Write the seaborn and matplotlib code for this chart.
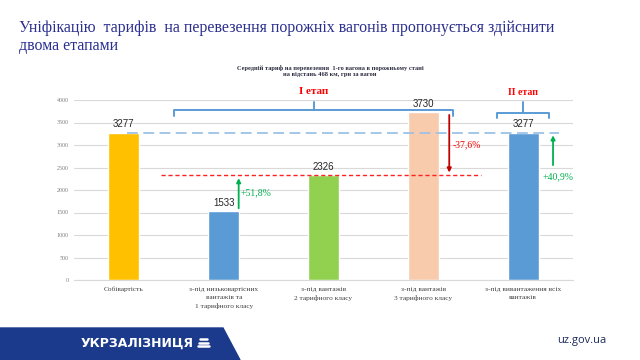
import numpy as np
import pandas as pd
import matplotlib.pyplot as plt
import matplotlib.patches as mpatches
import seaborn as sns

# Дані
categorias = ['Собівартість',
              'з-під низьковартісних\nвантажів та\n1 тарифного класу',
              'з-під вантажів\n2 тарифного класу',
              'з-під вантажів\n3 тарифного класу',
              'з-під вивантаження всіх\nвантажів']
tarifs = [3277, 1533, 2326, 3730, 3277]
cores = ['#ffc000', '#5b9bd5', '#92d050', '#f8cbad', '#5b9bd5']
yticks = list(range(0, 4001, 500))
pct_labels = ['+51,8%', '-37,6%', '+40,9%']
etap_labels = ['I етап', 'II етап']

sns.set_style("whitegrid")
plt.rcParams['font.family'] = ['Liberation Serif', 'DejaVu Serif']

df = pd.DataFrame({'cat': categorias, 'val': tarifs})

fig = plt.figure(figsize=(6.4, 3.6), dpi=100)
fig.patch.set_facecolor('white')

# Заголовок слайда
fig.text(19 / 640, 1 - 37 / 360,
         'Уніфікацію  тарифів  на перевезення порожніх вагонів пропонується здійснити\nдвома етапами',
         fontsize=11.4, color='#2b2f8f', va='center', ha='left', linespacing=1.15)

# Підзаголовок діаграми
fig.text(330 / 640, 1 - 71 / 360,
         'Середній тариф на перевезення  1-го вагона в порожньому стані\nна відстань 468 км, грн за вагон',
         fontsize=4.6, color='#2a2a40', fontweight='bold', ha='center', va='center', linespacing=1.2)

ax = fig.add_axes([74 / 640, 80 / 360, 499 / 640, 180 / 360])
sns.barplot(data=df, x='cat', y='val', hue='cat', palette=cores, legend=False,
            width=0.31, ax=ax, saturation=1)

ax.set_ylim(0, 4000)
ax.set_xlim(-0.5, 4.5)
ax.set_yticks(yticks)
ax.set_xticks(range(len(categorias)))
ax.set_xticklabels(categorias, linespacing=1.7, va='top')
ax.tick_params(axis='y', labelsize=4.3, colors='#7f7f7f', length=0, pad=4)
ax.tick_params(axis='x', labelsize=5.3, colors='#404040', length=0, pad=5)
ax.set_xlabel('')
ax.set_ylabel('')
ax.grid(axis='y', color='#d9d9d9', linewidth=0.8)
ax.grid(axis='x', visible=False)
for s in ['top', 'right', 'left']:
    ax.spines[s].set_visible(False)
ax.spines['bottom'].set_color('#d9d9d9')

# Підписи значень
for i, v in enumerate(tarifs):
    ax.text(i, v + 70, str(v), ha='center', va='bottom', fontsize=7,
            color='#262626', family='Liberation Sans')

# Горизонтальні пунктирні лінії
ax.plot([0.03, 4.36], [tarifs[0], tarifs[0]], color='#9dc3e6', lw=1.3,
        ls=(0, (6, 3)), zorder=4, clip_on=False)
ax.plot([0.37, 3.58], [tarifs[2], tarifs[2]], color='#ff2020', lw=1.0,
        ls=(0, (3, 2)), zorder=4, clip_on=False)

# Фігурні дужки етапів
br = '#5b9bd5'
ax.plot([0.5, 0.5, 3.3, 3.3], [3640, 3780, 3780, 3640], color=br, lw=1.4, clip_on=False)
ax.plot([1.9, 1.9], [3780, 3960], color=br, lw=1.4, clip_on=False)
ax.plot([3.74, 3.74, 4.26, 4.26], [3600, 3710, 3710, 3600], color=br, lw=1.4, clip_on=False)
ax.plot([4.0, 4.0], [3710, 3950], color=br, lw=1.4, clip_on=False)
ax.text(1.9, 4180, etap_labels[0], ha='center', va='center', fontsize=8,
        color='#ff0000', fontweight='bold')
ax.text(4.0, 4170, etap_labels[1], ha='center', va='center', fontsize=7,
        color='#ff0000', fontweight='bold')

# Стрілки
green = '#00b050'
ax.annotate('', xy=(1.15, tarifs[2]), xytext=(1.15, tarifs[1]),
            arrowprops=dict(arrowstyle='-|>', color=green, lw=1.3, mutation_scale=6))
ax.text(1.17, 1930, pct_labels[0], ha='left', va='center', fontsize=7, color=green)

red = '#c00000'
ax.annotate('', xy=(3.26, tarifs[2]), xytext=(3.26, tarifs[3]),
            arrowprops=dict(arrowstyle='-|>', color=red, lw=1.3, mutation_scale=6))
ax.text(3.29, 3000, pct_labels[1], ha='left', va='center', fontsize=7, color='#ff0000')

ax.annotate('', xy=(4.3, tarifs[4]), xytext=(4.3, 2490),
            arrowprops=dict(arrowstyle='-|>', color=green, lw=1.3, mutation_scale=6))
ax.text(4.35, 2290, pct_labels[2], ha='center', va='center', fontsize=7, color=green)

# Нижня плашка з логотипом
band = mpatches.Polygon([[0, 0], [240 / 640, 0], [223 / 640, 32 / 360], [0, 32 / 360]],
                        closed=True, transform=fig.transFigure, color='#1b3a8c', zorder=0)
fig.patches.append(band)
fig.text(81 / 640, 1 - 343 / 360, 'УКРЗАЛІЗНИЦЯ', color='white', fontsize=9.0,
         fontweight='bold', family='DejaVu Sans', ha='left', va='center')
for k, (x0, x1) in enumerate([(200, 207), (199, 208), (198, 209)]):
    yy = 1 - (339 + k * 3.5) / 360
    fig.add_artist(plt.Line2D([x0 / 640, x1 / 640], [yy, yy], color='white', lw=1.8,
                              transform=fig.transFigure))
fig.text(582 / 640, 1 - 340 / 360, 'uz.gov.ua', color='#1b2a5a', fontsize=8,
         family='Open Sans', ha='center', va='center')

fig.savefig('out.png', dpi=100)
